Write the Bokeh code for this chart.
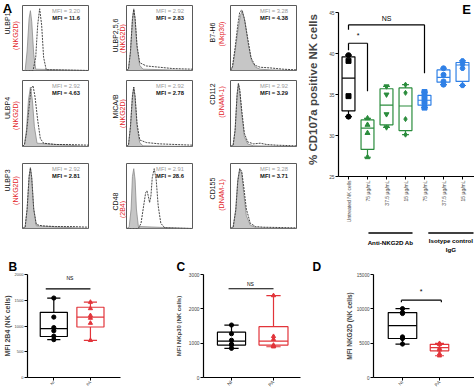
import math
from bokeh.plotting import figure
from bokeh.layouts import row, column
from bokeh.models import Title, FixedTicker, Range1d, ColumnDataSource
from bokeh.core.properties import value
from bokeh.embed import file_html
from bokeh.resources import INLINE

FONT = "Liberation Sans"

# ---------------- Panel A data (flow cytometry histograms) ----------------
a_ligands = ["ULBP1", "ULBP2,5,6", "B7-H6", "ULBP4", "MICA/B", "CD112", "ULBP3", "CD48", "CD155"]
a_receptors = ["(NKG2D)", "(NKG2D)", "(Nkp30)", "(NKG2D)", "(NKG2D)", "(DNAM-1)", "(NKG2D)", "(2B4)", "(DNAM-1)"]
a_mfi_iso = [3.20, 2.92, 3.28, 2.92, 2.92, 2.92, 2.92, 2.91, 3.28]
a_mfi_stain = [11.6, 2.83, 4.38, 4.63, 2.78, 3.29, 2.81, 28.6, 3.71]

iso_x = [
    [0, 0.04, 0.07, 0.10, 0.12, 0.14, 0.17, 0.20, 1.0],
    [0, 0.03, 0.06, 0.09, 0.11, 0.13, 0.16, 0.20, 0.25, 1.0],
    [0, 0.03, 0.07, 0.11, 0.15, 0.18, 0.22, 0.27, 0.32, 0.38, 0.45, 0.60, 1.0],
    [0, 0.03, 0.06, 0.09, 0.12, 0.15, 0.18, 0.22, 1.0],
    [0, 0.03, 0.06, 0.09, 0.11, 0.13, 0.16, 0.20, 0.25, 1.0],
    [0, 0.04, 0.07, 0.10, 0.12, 0.14, 0.17, 0.21, 0.26, 0.35, 1.0],
    [0, 0.04, 0.07, 0.10, 0.12, 0.14, 0.17, 0.21, 1.0],
    [0, 0.04, 0.07, 0.09, 0.11, 0.13, 0.15, 0.18, 1.0],
    [0, 0.04, 0.08, 0.11, 0.14, 0.17, 0.20, 0.24, 0.30, 0.40, 1.0],
]
iso_y = [
    [0, 0, 0.30, 0.80, 0.92, 0.75, 0.25, 0.02, 0],
    [0, 0.02, 0.30, 0.80, 0.95, 0.80, 0.35, 0.08, 0.02, 0],
    [0, 0.05, 0.30, 0.60, 0.85, 0.92, 0.75, 0.40, 0.15, 0.05, 0.02, 0.01, 0],
    [0, 0.03, 0.25, 0.70, 0.90, 0.70, 0.30, 0.05, 0],
    [0, 0.02, 0.30, 0.78, 0.90, 0.75, 0.30, 0.06, 0.01, 0],
    [0, 0.02, 0.25, 0.80, 0.96, 0.85, 0.50, 0.15, 0.04, 0.01, 0],
    [0, 0.02, 0.30, 0.80, 0.94, 0.78, 0.30, 0.04, 0],
    [0, 0.02, 0.30, 0.80, 0.92, 0.75, 0.30, 0.03, 0],
    [0, 0.02, 0.30, 0.75, 0.92, 0.85, 0.55, 0.20, 0.05, 0.01, 0],
]
stain_x = [
    [0, 0.16, 0.20, 0.23, 0.26, 0.29, 0.32, 0.36, 1.0],
    [0, 0.03, 0.06, 0.09, 0.11, 0.13, 0.16, 0.20, 0.30, 0.50, 0.70, 1.0],
    [0, 0.03, 0.07, 0.11, 0.14, 0.17, 0.21, 0.26, 0.31, 0.37, 0.45, 0.60, 0.80, 1.0],
    [0, 0.03, 0.06, 0.10, 0.13, 0.16, 0.19, 0.23, 0.27, 0.32, 0.50, 0.70, 1.0],
    [0, 0.03, 0.06, 0.09, 0.11, 0.13, 0.16, 0.20, 0.30, 0.50, 0.75, 1.0],
    [0, 0.04, 0.07, 0.10, 0.12, 0.14, 0.17, 0.21, 0.26, 0.35, 0.45, 0.55, 0.70, 1.0],
    [0, 0.04, 0.07, 0.10, 0.12, 0.14, 0.17, 0.21, 0.30, 0.50, 0.75, 1.0],
    [0, 0.18, 0.22, 0.26, 0.29, 0.31, 0.33, 0.35, 0.37, 0.39, 0.42, 0.45, 0.48, 0.52, 0.58, 1.0],
    [0, 0.04, 0.08, 0.11, 0.14, 0.17, 0.20, 0.24, 0.30, 0.38, 0.50, 1.0],
]
stain_y = [
    [0, 0, 0.20, 0.70, 0.95, 0.70, 0.20, 0.01, 0],
    [0, 0.02, 0.28, 0.78, 0.94, 0.80, 0.38, 0.12, 0.07, 0.05, 0.03, 0.02],
    [0, 0.06, 0.35, 0.70, 0.90, 0.93, 0.80, 0.50, 0.20, 0.08, 0.05, 0.04, 0.02, 0.01],
    [0, 0.03, 0.20, 0.60, 0.88, 0.92, 0.75, 0.40, 0.12, 0.05, 0.03, 0.03, 0.02],
    [0, 0.02, 0.30, 0.75, 0.90, 0.76, 0.35, 0.10, 0.06, 0.04, 0.03, 0.02],
    [0, 0.02, 0.25, 0.78, 0.95, 0.86, 0.55, 0.20, 0.07, 0.04, 0.05, 0.03, 0.02, 0.01],
    [0, 0.02, 0.30, 0.80, 0.93, 0.78, 0.30, 0.06, 0.04, 0.03, 0.03, 0.02],
    [0, 0.0, 0.08, 0.35, 0.55, 0.58, 0.50, 0.40, 0.50, 0.78, 0.92, 0.75, 0.35, 0.08, 0.01, 0],
    [0, 0.02, 0.28, 0.72, 0.92, 0.88, 0.65, 0.30, 0.08, 0.03, 0.02, 0.01],
]

# ---------------- Panel E data ----------------
e_cats = [1, 2, 3, 4, 5, 6, 7]
e_labels = ["Untreated NK cells", "75 \u00b5g/mL", "37.5 \u00b5g/mL", "15 \u00b5g/mL",
            "75 \u00b5g/mL", "37.5 \u00b5g/mL", "15 \u00b5g/mL"]
e_q1 = [33.0, 28.3, 31.3, 30.6, 33.7, 36.5, 36.6]
e_med = [37.0, 30.9, 33.7, 33.6, 34.3, 37.1, 38.6]
e_q3 = [39.6, 31.9, 35.7, 35.8, 34.9, 38.0, 38.9]
e_lo = [32.3, 27.35, 31.0, 30.1, 33.4, 36.2, 36.1]
e_hi = [39.8, 32.1, 36.0, 36.2, 35.3, 38.2, 39.1]
e_pts = [[39.8, 39.1, 34.8, 32.3], [32.1, 31.3, 30.3, 27.35], [36.0, 35.0, 32.6, 31.0],
         [36.2, 35.2, 32.0, 30.1], [35.3, 34.7, 34.1, 33.4], [38.2, 37.4, 36.6, 36.2],
         [39.1, 38.7, 38.2, 36.1]]
e_colors = ["#000000", "#2a8c3c", "#2a8c3c", "#2a8c3c", "#2f80e6", "#2f80e6", "#2f80e6"]
e_markers = [["circle", "square", "square", "circle"], "triangle", "inverted_triangle", "diamond",
             "square", "circle", "hex"]
e_sig_x0 = [1, 1]
e_sig_x1 = [5, 2]
e_sig_y = [43.5, 41.25]
e_sig_left = [42.9, 40.4]
e_sig_right = [37.6, 35.4]
e_sig_text = ["NS", "*"]
e_sig_tx = [3.0, 1.5]
e_sig_ty = [44.3, 42.2]
e_groups = ["Anti-NKG2D Ab", "Isotype control"]
e_group_x0 = [2.05, 5.2]
e_group_x1 = [4.37, 7.58]

# ---------------- Panels B, C, D data ----------------
bcd_cats = ["NI", "PA"]
b_q1, b_med, b_q3 = [796, 981], [950, 1173], [1265, 1364]
b_lo, b_hi = [735, 722], [1543, 1463]
b_pts = [[1543, 1173, 969, 907, 802, 735], [1463, 1340, 1204, 1154, 1056, 722]]
c_q1, c_med, c_q3 = [943, 943], [1057, 1057], [1321, 1481]
c_lo, c_hi = [849, 896], [1528, 2387]
c_pts = [[1528, 1274, 1085, 972, 943, 849], [2387, 1198, 1113, 943, 915, 896]]
d_q1, d_med, d_q3 = [5676, 3879], [7568, 4352], [9460, 4825]
d_lo, d_hi = [4872, 3169], [10028, 4967]
d_pts = [[10028, 9460, 9318, 5913, 5676, 4872], [4967, 4825, 4257, 4020, 3453, 3169]]


# ---------------- layout helpers ----------------
def hide_grid(p):
    for g in p.grid:
        g.visible = False


def make_fig(fig_box, frame_box, **kw):
    fx0, fy0, fx1, fy1 = fig_box
    px0, py0, px1, py1 = frame_box
    p = figure(width=fx1 - fx0, height=fy1 - fy0,
               min_border_left=px0 - fx0, min_border_right=fx1 - px1,
               min_border_top=py0 - fy0, min_border_bottom=fy1 - py1,
               output_backend="svg", toolbar_location=None, **kw)
    p.background_fill_color = "white"
    p.border_fill_color = "white"
    hide_grid(p)
    return p


def style_axes(p, tick_size, label_size, label_standoff=1):
    for ax in p.axis:
        ax.axis_line_width = 1.2
        ax.major_tick_line_width = 1
        ax.major_tick_out = 3
        ax.major_tick_in = 0
        ax.minor_tick_line_color = None
        ax.major_label_text_font = FONT
        ax.major_label_text_font_size = tick_size
        ax.major_label_standoff = 1
        ax.axis_label_text_font = FONT
        ax.axis_label_text_font_size = label_size
        ax.axis_label_text_font_style = "bold"
        ax.axis_label_standoff = label_standoff
    p.outline_line_color = None


def boxplot(p, xs, q1, med, q3, lo, hi, pts, colors, markers, widths, capw, msize):
    for i, x in enumerate(xs):
        c = colors[i]
        w = widths[i]
        p.segment(x0=[x, x], y0=[q3[i], q1[i]], x1=[x, x], y1=[hi[i], lo[i]], line_color=c, line_width=1.2)
        p.segment(x0=[x - capw[i] / 2] * 2, y0=[hi[i], lo[i]], x1=[x + capw[i] / 2] * 2, y1=[hi[i], lo[i]],
                  line_color=c, line_width=1.2)
        p.vbar(x=[x], bottom=[q1[i]], top=[q3[i]], width=w, fill_color="white", line_color=c, line_width=1.2)
        p.segment(x0=[x - w / 2], y0=[med[i]], x1=[x + w / 2], y1=[med[i]], line_color=c, line_width=1.2)
        mk = markers[i] if isinstance(markers[i], list) else [markers[i]] * len(pts[i])
        src = ColumnDataSource(dict(x=[x] * len(pts[i]), y=pts[i], m=mk))
        p.scatter("x", "y", marker="m", source=src, size=msize, fill_color=c, line_color=c)


# ---------------- Panel A ----------------
A_H = 232
strip_boxes = [(0, 22), (100, 126), (200, 230)]
col_fig = [(22, 100), (126, 200), (230, 300)]
col_frame = [(22, 88), (126, 192), (230, 296)]
row_fig = [(0, 75), (75, 155), (155, 232)]
row_frame = [(5, 70), (80, 146), (163, 228)]
lig_pos = [(7, 23), (14.5, 35), (11.5, 32), (7, 107.5), (14.5, 106), (11.5, 93.5),
           (7, 180), (14.5, 201), (11.5, 188)]
rec_pos = [(15, 35), (21.5, 38), (21, 33.5), (15, 115), (21.5, 113), (21, 101.5),
           (15, 190), (21.5, 209), (21, 194.5)]

a_cols = []
for c in range(3):
    sx0, sx1 = strip_boxes[c]
    sw = sx1 - sx0
    st = figure(width=sw, height=A_H, x_range=Range1d(0, sw), y_range=Range1d(0, A_H),
                x_axis_location=None, y_axis_location=None, min_border=0,
                output_backend="svg", toolbar_location=None)
    st.outline_line_color = None
    hide_grid(st)
    idx = [r * 3 + c for r in range(3)]
    st.text(x=[lig_pos[i][0] for i in idx], y=[A_H - lig_pos[i][1] for i in idx],
            text=[a_ligands[i] for i in idx], angle=math.pi / 2, text_font=value(FONT),
            text_font_size="7px", text_color="#111111", text_align="center", text_baseline="middle")
    st.text(x=[rec_pos[i][0] for i in idx], y=[A_H - rec_pos[i][1] for i in idx],
            text=[a_receptors[i] for i in idx], angle=math.pi / 2, text_font=value(FONT),
            text_font_size="7px", text_color="#e3262c", text_align="center", text_baseline="middle")
    if c == 0:
        st.text(x=[7], y=[A_H - 8], text=["A"], text_font=value(FONT), text_font_size="13px",
                text_font_style="bold", text_align="center", text_baseline="middle", text_color="black")
    hists = []
    for r in range(3):
        i = r * 3 + c
        fig_box = (col_fig[c][0], row_fig[r][0], col_fig[c][1], row_fig[r][1])
        frame_box = (col_frame[c][0], row_frame[r][0], col_frame[c][1], row_frame[r][1])
        p = make_fig(fig_box, frame_box, x_range=Range1d(0, 1), y_range=Range1d(0, 1),
                     x_axis_location=None, y_axis_location=None)
        p.outline_line_color = "#5a5a5a"
        p.outline_line_width = 1
        p.varea(x=iso_x[i], y1=[0] * len(iso_x[i]), y2=iso_y[i], fill_color="#c6c6c6")
        p.line(iso_x[i], iso_y[i], line_color="#8c8c8c", line_width=0.8)
        p.line(stain_x[i], stain_y[i], line_color="#333333", line_width=0.9, line_dash="2 1")
        p.text(x=[0.87], y=[0.92], text=["MFI = %s" % format(a_mfi_iso[i], "#.3g")],
               text_font=value(FONT), text_font_size="5.8px", text_color="#9a9a9a",
               text_align="right", text_baseline="middle")
        p.text(x=[0.87], y=[0.815], text=["MFI = %s" % format(a_mfi_stain[i], "#.3g")],
               text_font=value(FONT), text_font_size="5.8px", text_color="#111111",
               text_font_style="bold", text_align="right", text_baseline="middle")
        hists.append(p)
    a_cols.append(st)
    a_cols.append(column(*hists))
panel_a = row(*a_cols)

# ---------------- Panel E ----------------
e_fig_box = (300, 0, 474, 231)
e_frame = (338, 2, 474, 176)
e_step = 19.0
e_first_px = 348
e_px_per_unit = 8.2
e_xr = Range1d(1 - (e_first_px - e_frame[0]) / e_step, 1 + (e_frame[2] - e_first_px) / e_step)
e_yr = Range1d(25, 45 + (12 - e_frame[1]) / e_px_per_unit)
pE = make_fig(e_fig_box, e_frame, x_range=e_xr, y_range=e_yr)
pE.yaxis.ticker = FixedTicker(ticks=[25, 30, 35, 40, 45])
pE.yaxis.bounds = (25, 45)
pE.xaxis.ticker = FixedTicker(ticks=e_cats)
pE.xaxis.major_label_overrides = {k: v for k, v in zip(e_cats, e_labels)}
pE.xaxis.major_label_orientation = math.pi / 2
pE.yaxis.axis_label = "% CD107a positive NK cells"
style_axes(pE, "4.8px", "11.5px", label_standoff=7)
pE.xaxis.major_label_text_font_size = "5px"
boxplot(pE, e_cats, e_q1, e_med, e_q3, e_lo, e_hi, e_pts, e_colors, e_markers,
        [0.68] * 7, [0.36] * 7, 5)
pE.segment(x0=e_sig_x0, y0=e_sig_y, x1=e_sig_x1, y1=e_sig_y, line_color="black", line_width=1.2)
pE.segment(x0=e_sig_x0, y0=e_sig_y, x1=e_sig_x0, y1=e_sig_left, line_color="black", line_width=1.2)
pE.segment(x0=e_sig_x1, y0=e_sig_y, x1=e_sig_x1, y1=e_sig_right, line_color="black", line_width=1.2)
pE.text(x=e_sig_tx, y=e_sig_ty, text=e_sig_text, text_font=value(FONT), text_font_size="7px",
        text_align="center", text_baseline="middle", text_color="black")
pE.text(x=[1 + (466 - e_first_px) / e_step], y=[45 + (12 - 9) / e_px_per_unit], text=["E"],
        text_font=value(FONT), text_font_size="13px", text_font_style="bold",
        text_align="center", text_baseline="middle", text_color="black")

g_fig_box = (300, 231, 474, 256)
g_frame = (338, 231, 474, 256)
pG = make_fig(g_fig_box, g_frame, x_range=e_xr, y_range=Range1d(0, 1),
              x_axis_location=None, y_axis_location=None)
pG.outline_line_color = None
pG.segment(x0=e_group_x0, y0=[0.94, 0.94], x1=e_group_x1, y1=[0.94, 0.94], line_color="black", line_width=1.5)
g_cx = [(a + b) / 2 for a, b in zip(e_group_x0, e_group_x1)]
pG.text(x=g_cx, y=[0.55, 0.66], text=e_groups, text_font=value(FONT), text_font_size="6.2px",
        text_font_style="bold", text_align="center", text_baseline="middle", text_color="black")
pG.text(x=[g_cx[1]], y=[0.27], text=["IgG"], text_font=value(FONT), text_font_size="6.2px",
        text_font_style="bold", text_align="center", text_baseline="middle", text_color="black")

panel_e = column(pE, pG)


# ---------------- Panels B, C, D ----------------
def small_panel(fig_box, frame_box, cat_px, ymax, yticks, ylabel, q1, med, q3, lo, hi, pts,
                widths, capw, sig, tick_size, label_size, lstand, let_left, let):
    step = cat_px[1] - cat_px[0]
    xr = Range1d(1 - (cat_px[0] - frame_box[0]) / step, 1 + (frame_box[2] - cat_px[0]) / step)
    p = make_fig(fig_box, frame_box, x_range=xr, y_range=Range1d(0, ymax))
    p.yaxis.ticker = FixedTicker(ticks=yticks)
    p.xaxis.ticker = FixedTicker(ticks=[1, 2])
    p.xaxis.major_label_overrides = {1: bcd_cats[0], 2: bcd_cats[1]}
    p.xaxis.major_label_orientation = math.pi / 4
    p.yaxis.axis_label = ylabel
    style_axes(p, tick_size, label_size, lstand)
    boxplot(p, [1, 2], q1, med, q3, lo, hi, pts, ["#000000", "#e2343a"],
            ["circle", "triangle"], widths, capw, 4.2)
    sx0, sx1, sy, sleg, stext, stx, sty, tsize = sig
    p.segment(x0=[sx0], y0=[sy], x1=[sx1], y1=[sy], line_color="black", line_width=1.2)
    if sleg is not None:
        p.segment(x0=[sx0, sx1], y0=[sy, sy], x1=[sx0, sx1], y1=[sleg, sleg], line_color="black", line_width=1.2)
    p.text(x=[stx], y=[sty], text=[stext], text_font=value(FONT), text_font_size=tsize,
           text_align="center", text_baseline="middle", text_color="black")
    p.add_layout(Title(text=let, align="left", offset=let_left - frame_box[0], standoff=2,
                       text_font=FONT, text_font_size="12px", text_font_style="bold",
                       text_color="black"), "above")
    return p


pB = small_panel((0, 256, 170, 392), (21, 271, 120, 379), [49, 88], 2000, [0, 500, 1000, 1500, 2000],
                 "MFI 2B4 (NK cells)", b_q1, b_med, b_q3, b_lo, b_hi, b_pts, [0.74, 0.74], [0.36, 0.36],
                 (0.78, 2.0, 1722, None, "NS", 1.44, 1926, "5px"), "4px", "7px", 1, 2, "B")
pC = small_panel((170, 256, 310, 392), (203, 274, 300, 380), [231, 273], 3000, [0, 1000, 2000, 3000],
                 "MFI NKp30 (NK cells)", c_q1, c_med, c_q3, c_lo, c_hi, c_pts, [0.67, 0.69], [0.34, 0.34],
                 (0.93, 2.0, 2585, None, "NS", 1.45, 2717, "5px"), "4.8px", "6px", 4, 176, "C")
pD = small_panel((310, 256, 474, 392), (373, 273, 474, 378), [402, 439], 15000, [0, 5000, 10000, 15000],
                 "MFI NKG2D (NK cells)", d_q1, d_med, d_q3, d_lo, d_hi, d_pts, [0.77, 0.5], [0.38, 0.24],
                 (0.97, 2.05, 11257, 10974, "*", 1.5, 12535, "7px"), "4.6px", "6.5px", 1, 312, "D")

layout = column(row(panel_a, panel_e), row(pB, pC, pD))
open("out.html", "w").write(file_html(layout, INLINE))
